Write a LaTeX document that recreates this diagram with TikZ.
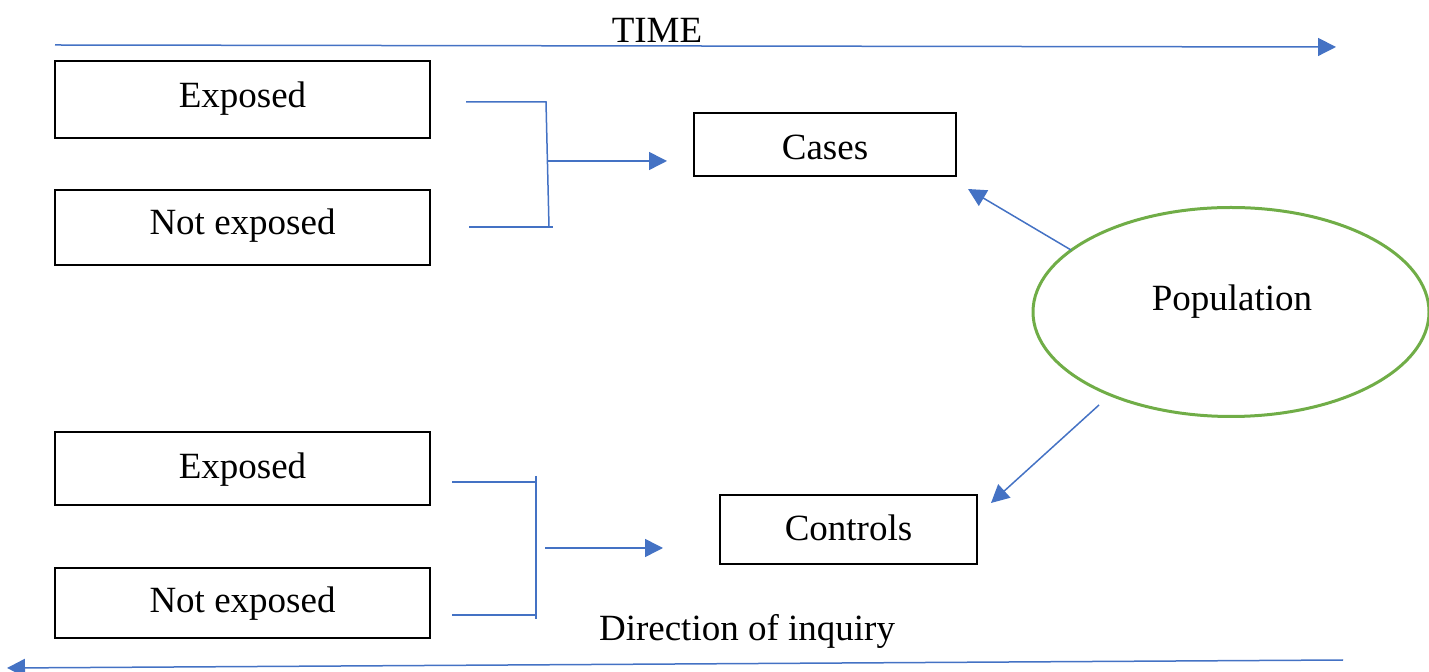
\documentclass[tikz,border=0pt]{standalone}
\usepackage{fontspec}
\setmainfont{Liberation Serif}
\usetikzlibrary{arrows.meta,shapes.geometric}
\definecolor{lineblue}{HTML}{4472C4}
\definecolor{popgreen}{HTML}{70AD47}
\tikzset{
  box/.style={draw=black, line width=0.65pt, minimum width=187.5pt, inner sep=0pt, font=\fontsize{18.5pt}{22pt}\selectfont},
  lbl/.style={inner sep=0pt, font=\fontsize{18.5pt}{22pt}\selectfont},
  conn/.style={draw=lineblue, line width=0.75pt},
  arr/.style={conn, -{Triangle[length=9pt,width=9pt]}},
}
\begin{document}
\begin{tikzpicture}[x=0.5pt, y=-0.5pt]
\useasboundingbox (0,0) rectangle (1429,672);
% time arrow
\coordinate (t0) at (55,45);
\coordinate (t1) at (1336,47);
\draw[arr] (t0) -- (t1);
\node[lbl] (time) at (657,30) {TIME};
% upper boxes
\node[box, minimum height=38.5pt] (e1) at (242.5,99.5) {};
\node[lbl] (e1t) at (242.5,99) {Exposed};
\node[box, minimum height=37.5pt] (n1) at (242.5,227.5) {};
\node[lbl] (n1t) at (242.5,226) {Not exposed};
\node[box, minimum width=131pt, minimum height=31.5pt] (cases) at (825,144.5) {};
\node[lbl] (casest) at (825,147) {Cases};
% upper bracket
\coordinate (ua) at (466,102);
\coordinate (ub) at (546,102);
\coordinate (uc) at (549,227);
\coordinate (ud) at (469,227);
\coordinate (ue) at (553,227);
\coordinate (uf) at (548,161);
\coordinate (ug) at (667,161);
\draw[conn] (ua) -- (ub) -- (uc);
\draw[conn] (ud) -- (ue);
\draw[arr] (uf) -- (ug);
% population
\node[draw=popgreen, line width=1.5pt, ellipse, minimum width=198pt, minimum height=104.5pt, inner sep=0pt] (pop) at (1231,312) {};
\node[lbl] (popt) at (1232,302) {Population};
\coordinate (p1) at (1071,250);
\coordinate (p1e) at (968,189);
\coordinate (p2) at (1099,405);
\coordinate (p2e) at (991,503);
\draw[arr] (p1) -- (p1e);
\draw[arr] (p2) -- (p2e);
% lower boxes
\node[box, minimum height=36.5pt] (e2) at (242.5,468.5) {};
\node[lbl] (e2t) at (242.5,470) {Exposed};
\node[box, minimum height=35pt] (n2) at (242.5,603) {};
\node[lbl] (n2t) at (242.5,604) {Not exposed};
\node[box, minimum width=128.5pt, minimum height=34.5pt] (controls) at (848.5,529.5) {};
\node[lbl] (controlst) at (848.5,528) {Controls};
% lower bracket
\coordinate (la) at (452,482);
\coordinate (lb) at (536,482);
\coordinate (lt) at (536,476);
\coordinate (lbot) at (536,619);
\coordinate (lc) at (452,615);
\coordinate (ld) at (536,615);
\coordinate (lf) at (545,548);
\coordinate (lg) at (663,548);
\draw[conn] (la) -- (lb);
\draw[conn] (lt) -- (lbot);
\draw[conn] (lc) -- (ld);
\draw[arr] (lf) -- (lg);
% direction of inquiry
\node[lbl] (dir) at (747,631) {Direction of inquiry};
\coordinate (d0) at (1343,660);
\coordinate (d1) at (7,668);
\draw[arr] (d0) -- (d1);
\end{tikzpicture}
\end{document}
